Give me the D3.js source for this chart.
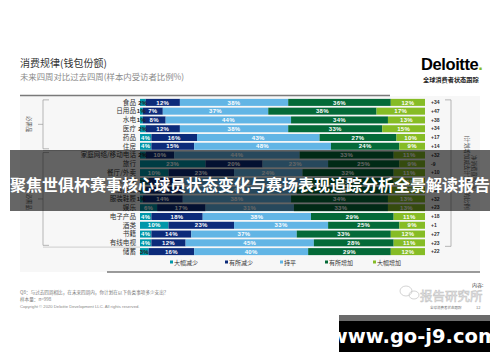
<!DOCTYPE html>
<html>
<head>
<meta charset="utf-8">
<script src="https://cdn.jsdelivr.net/npm/d3@7"></script>
<style>
  html, body { margin: 0; padding: 0; background: #fff; }
  svg { display: block; font-family: 'Noto Sans CJK SC', 'Liberation Sans', sans-serif; }
</style>
</head>
<body>
<div id="chart"></div>
<script>
// Stacked 100% bars — spending intent, next 4 weeks vs last 4 weeks

const categories = ['食品','日用品','水电','医疗','药品','住房','家庭网络/移动电话','旅行','餐厅/外卖','个人护理','家居用品','服装鞋履','娱乐','电子产品','酒类','书籍','有线电视','储蓄'];
const seriesNames = ['大幅减少','有所减少','持平','有所增加','大幅增加'];
const bigDecrease  = [2, 1, 1, 2, 4, 4, 2, 23, 10, 3, 2, 1, 6, 4, 10, 4, 4, 3];
const someDecrease = [12, 7, 8, 12, 16, 15, 10, 20, 23, 11, 13, 14, 17, 18, 23, 14, 12, 16];
const flat         = [38, 37, 44, 38, 43, 48, 44, 23, 24, 45, 40, 38, 31, 38, 33, 37, 45, 40];
const someIncrease = [36, 38, 34, 33, 27, 24, 33, 25, 32, 30, 33, 34, 33, 29, 25, 33, 28, 29];
const bigIncrease  = [12, 17, 13, 15, 10, 9, 11, 9, 11, 11, 12, 13, 13, 11, 9, 12, 11, 12];
const netValues    = [34, 47, 38, 34, 17, 14, 32, -9, 10, 27, 30, 32, 23, 18, 1, 27, 23, 22];
const groupNames   = ['必需品', '非必需品'];

const COLORS = ['#0097a9', '#0c2b7a', '#62b5e5', '#046a38', '#86bc25'];

const W = 500, H = 362;
const svg = d3.select('#chart').append('svg').attr('width', W).attr('height', H);

// ── Slide header ──────────────────────────────────────────────
svg.append('text').attr('x', 20).attr('y', 67).attr('font-size', 10).attr('fill', '#333').text('消费规律(钱包份额)');
svg.append('text').attr('x', 20).attr('y', 80).attr('font-size', 8.4).attr('fill', '#8a8a8a').text('未来四周对比过去四周(样本内受访者比例%)');

const logo = svg.append('text').attr('x', 421).attr('y', 70).attr('font-size', 16.5).attr('font-weight', 700)
  .attr('font-family', 'Liberation Sans, sans-serif').attr('fill', '#000').attr('letter-spacing', -0.4);
logo.append('tspan').text('Deloitte');
logo.append('tspan').attr('fill', '#86bc25').text('.');
svg.append('text').attr('x', 423).attr('y', 82).attr('font-size', 6.2).attr('font-weight', 700).attr('fill', '#222').text('全球消费者状态跟踪');

// ── Panel ─────────────────────────────────────────────────────
svg.append('rect').attr('x', 20).attr('y', 96).attr('width', 460).attr('height', 176).attr('fill', '#f7f7f7');
svg.append('line').attr('x1', 20).attr('x2', 390).attr('y1', 95.5).attr('y2', 95.5).attr('stroke', '#7a7a7a').attr('stroke-width', 1.6);
svg.append('line').attr('x1', 107).attr('x2', 480).attr('y1', 272).attr('y2', 272).attr('stroke', '#7a7a7a').attr('stroke-width', 1.6);

const x = d3.scaleLinear().domain([0, 100]).range([140, 425]);
const y = d3.scaleBand().domain(categories).range([98, 256]).paddingInner(0.2).paddingOuter(0.1);

const rows = categories.map((c, i) => ({
  cat: c, net: netValues[i],
  [seriesNames[0]]: bigDecrease[i], [seriesNames[1]]: someDecrease[i], [seriesNames[2]]: flat[i],
  [seriesNames[3]]: someIncrease[i], [seriesNames[4]]: bigIncrease[i]
}));
const stacked = d3.stack().keys(seriesNames)(rows);

// Category labels
svg.append('g').selectAll('text').data(categories).enter().append('text')
  .attr('x', 136).attr('y', d => y(d) + y.bandwidth() / 2).attr('dy', '0.35em')
  .attr('text-anchor', 'end').attr('font-size', 6.6).attr('fill', '#333').text(d => d);

// Bars
const layers = svg.append('g').selectAll('g').data(stacked).enter().append('g')
  .attr('fill', (_, i) => COLORS[i]);
layers.selectAll('rect').data(d => d).enter().append('rect')
  .attr('x', d => x(d[0])).attr('y', d => y(d.data.cat))
  .attr('width', d => x(d[1]) - x(d[0])).attr('height', y.bandwidth());

// Segment labels
const labels = svg.append('g').selectAll('g').data(stacked).enter().append('g');
labels.selectAll('text').data(d => d.map(s => ({ s, v: s[1] - s[0] }))).enter().append('text')
  .attr('x', d => (x(d.s[0]) + x(d.s[1])) / 2).attr('y', d => y(d.s.data.cat) + y.bandwidth() / 2)
  .attr('dy', '0.36em').attr('text-anchor', 'middle')
  .attr('font-family', 'Liberation Sans, sans-serif').attr('font-weight', 700).attr('font-size', 6)
  .attr('letter-spacing', 0.3)
  .attr('fill', d => d.v < 4 ? '#222' : '#fff')
  .text(d => d.v + '%');

// Net values
svg.append('g').selectAll('text').data(rows).enter().append('text')
  .attr('x', 431).attr('y', d => y(d.cat) + y.bandwidth() / 2).attr('dy', '0.35em')
  .attr('font-family', 'Liberation Sans, sans-serif').attr('font-weight', 700).attr('font-size', 5).attr('fill', '#333')
  .text(d => (d.net > 0 ? '+' : '') + d.net);

// ── Group brackets ────────────────────────────────────────────
const grp = [[categories[0], categories[5]], [categories[6], categories[16]]];
const br = svg.append('g').attr('stroke', '#999').attr('stroke-width', 0.7).attr('fill', 'none');
grp.forEach(([a, b], i) => {
  const y0 = y(a) + 1, y1 = y(b) + y.bandwidth() - 1, ym = (y0 + y1) / 2;
  br.append('path').attr('d', `M49,${y0}H43V${y1}H49M43,${ym}H38`);
  svg.append('text').attr('transform', `translate(27,${ym}) rotate(90)`).attr('text-anchor', 'middle')
    .attr('font-size', 5.5).attr('fill', '#555').text(groupNames[i]);
});
[categories[6], categories[17]].forEach(c => {
  br.append('line').attr('x1', 43).attr('x2', 140).attr('y1', y(c) - 1).attr('y2', y(c) - 1).attr('stroke', '#bbb');
});

// Right bracket
const ry0 = y(categories[0]) + 1, ry1 = y(categories[16]) + y.bandwidth();
br.append('path').attr('d', `M445,${ry0}H451V${ry1}H445`);
const rt = svg.append('text').attr('transform', `translate(465,${(ry0 + ry1) / 2}) rotate(90)`)
  .attr('text-anchor', 'middle').attr('font-size', 5.5).attr('fill', '#555');
rt.append('tspan').attr('x', 0).attr('dy', -7).text('净消费意愿(%)');
rt.append('tspan').attr('x', 0).attr('dy', 7).text('(计划增加减去计划减少的比例)');

// ── Legend ────────────────────────────────────────────────────
const lx = [170, 225, 280, 325, 373];
const lg = svg.append('g').selectAll('g').data(seriesNames).enter().append('g')
  .attr('transform', (_, i) => `translate(${lx[i]},263)`);
lg.append('rect').attr('x', 0).attr('y', -2.5).attr('width', 3).attr('height', 3).attr('fill', (_, i) => COLORS[i]);
lg.append('text').attr('x', 4).attr('y', 0).attr('dy', '0.35em').attr('font-size', 6).attr('fill', '#333').text(d => d);

// ── Footer ────────────────────────────────────────────────────
svg.append('text').attr('x', 20).attr('y', 294).attr('font-size', 4.6).attr('fill', '#777').text('Q8：与过去四周相比，在未来四周内，你计划在以下各类事项多少支出？');
svg.append('text').attr('x', 20).attr('y', 301).attr('font-size', 4.6).attr('fill', '#777').text('样本量：n=998');
svg.append('text').attr('x', 20).attr('y', 308).attr('font-size', 4.2).attr('fill', '#888')
  .attr('font-family', 'Liberation Sans, sans-serif').text('Copyright © 2020 Deloitte Development LLC. All rights reserved.');

// Watermark
const wm = svg.append('g').attr('fill', 'none').attr('stroke', '#c8c8c8').attr('stroke-width', 0.8);
wm.append('ellipse').attr('cx', 406).attr('cy', 291).attr('rx', 6).attr('ry', 5);
wm.append('ellipse').attr('cx', 414).attr('cy', 295).attr('rx', 5).attr('ry', 4);
svg.append('text').attr('x', 420).attr('y', 301).attr('font-size', 12.5).attr('fill', '#fff')
  .attr('stroke', '#c4c4c4').attr('stroke-width', 0.6).text('报告研究所');
svg.append('text').attr('x', 472).attr('y', 287).attr('font-size', 5).attr('fill', '#444').text('内容:');
svg.append('text').attr('x', 430).attr('y', 309).attr('font-size', 3.5).attr('fill', '#777').text('全球消费者状态跟踪');
svg.append('text').attr('x', 476).attr('y', 309).attr('font-size', 4).attr('fill', '#777').text('12');

// ── Overlay banner ────────────────────────────────────────────
svg.append('rect').attr('x', 10).attr('y', 150).attr('width', 480).attr('height', 61).attr('fill', 'rgba(0,0,0,0.6)');
svg.append('text').attr('x', 250).attr('y', 191).attr('text-anchor', 'middle').attr('font-size', 16)
  .attr('font-weight', 700).attr('fill', '#fff').text('聚焦世俱杯赛事核心球员状态变化与赛场表现追踪分析全景解读报告');

// URL box
svg.append('rect').attr('x', 339).attr('y', 315).attr('width', 151).attr('height', 6).attr('fill', '#6b6b6b');
svg.append('rect').attr('x', 339).attr('y', 321).attr('width', 151).attr('height', 31).attr('fill', '#000');
svg.append('text').attr('x', 414).attr('y', 343).attr('text-anchor', 'middle').attr('font-size', 19.5)
  .attr('font-weight', 700).attr('font-family', 'DejaVu Sans, sans-serif').attr('fill', '#fff').text('www.go-j9.com');
</script>
</body>
</html>
